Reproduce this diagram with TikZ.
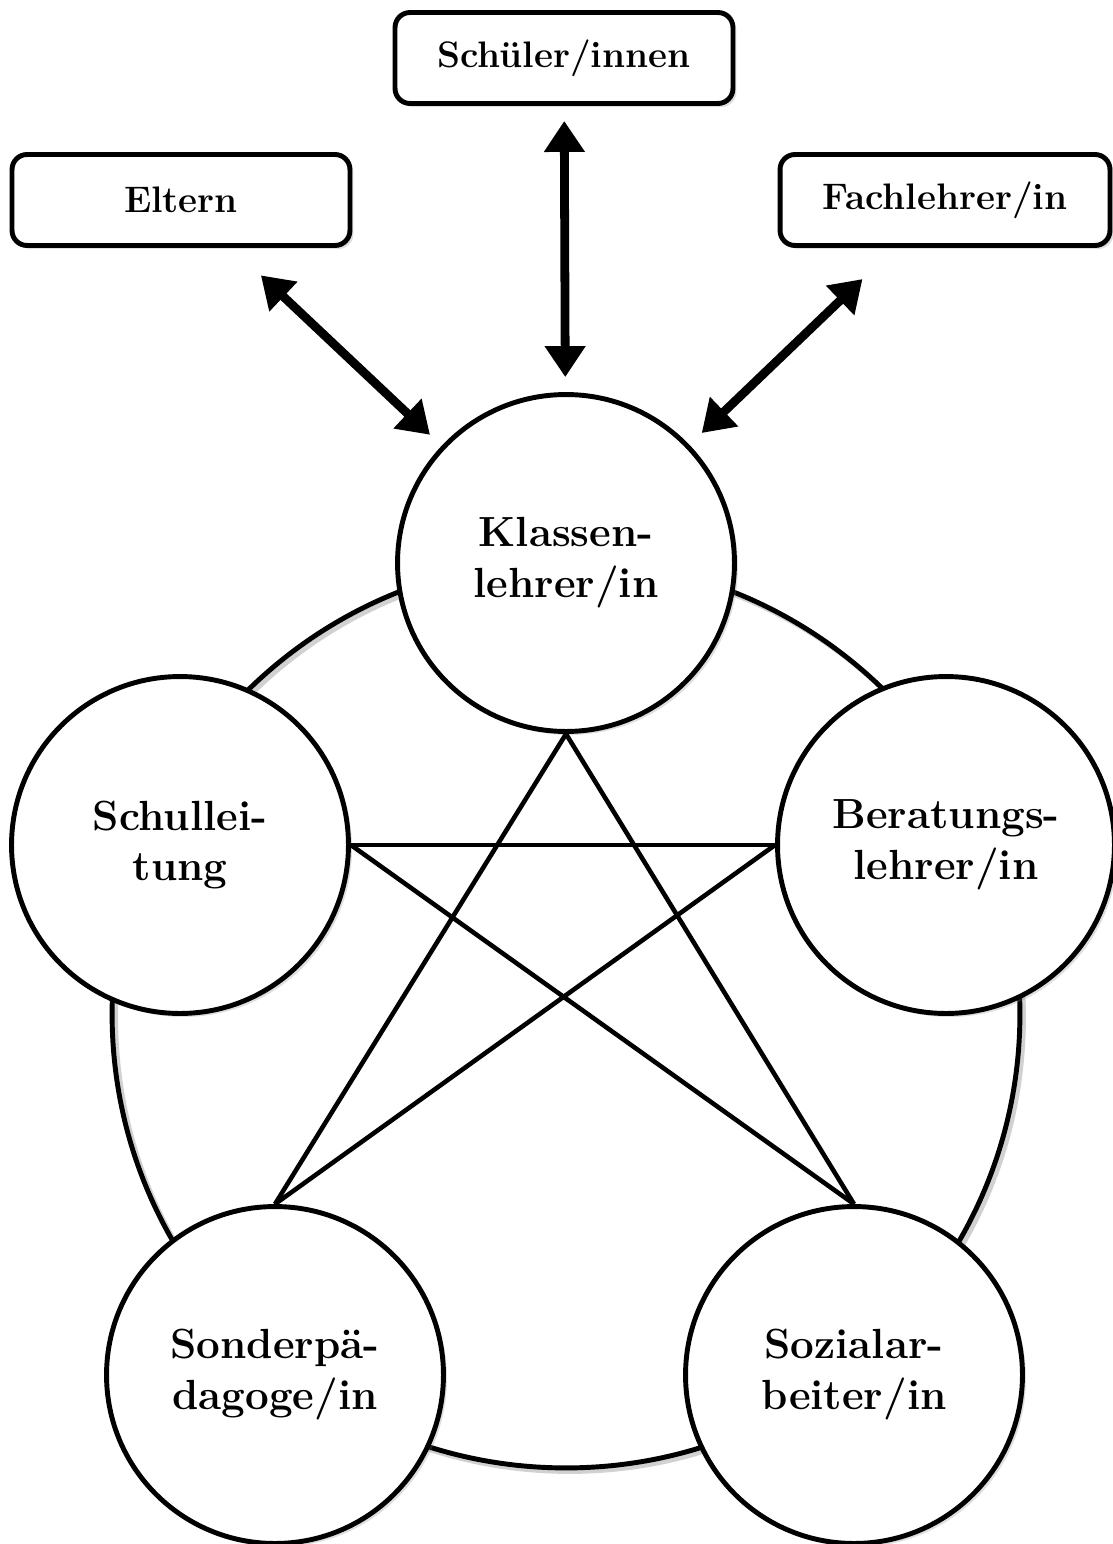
\documentclass[tikz,border=0pt]{standalone}
\usepackage{tikz}
\usetikzlibrary{arrows.meta,shadows}

\begin{document}
\begin{tikzpicture}[x=0.02cm,y=-0.02cm,
		role/.style={circle,draw=black,line width=2.8pt,fill=white,minimum size=6.74cm,inner sep=0pt,align=center,
			font=\fontsize{24}{29}\selectfont\bfseries,drop shadow={opacity=0.25,shadow xshift=2pt,shadow yshift=-2pt}},
		partner/.style={rectangle,rounded corners=0.3cm,draw=black,line width=2.8pt,fill=white,minimum height=1.82cm,
			font=\fontsize{21}{25}\selectfont\bfseries,drop shadow={opacity=0.25,shadow xshift=2pt,shadow yshift=-2pt}},
		link/.style={line width=2.6pt},
		talk/.style={line width=5pt,{Triangle[length=0.62cm,width=0.78cm]}-{Triangle[length=0.62cm,width=0.78cm]}}]
		\useasboundingbox (0,0) rectangle (1112,1544);

		% outer ring (with its shadow)
		\coordinate (mid) at (566,1014);
		\draw[line width=2.8pt,black!18] ([xshift=2pt,yshift=-2pt]mid) circle[radius=9.08cm];
		\draw[line width=2.8pt] (mid) circle[radius=9.08cm];

		% individual roles
		\node[role] (kl) at (566,563) {Klassen-\\lehrer/in};
		\node[role] (sl) at (180,845) {Schullei-\\tung};
		\node[role] (ber) at (946,845) {Beratungs-\\lehrer/in};
		\node[role] (son) at (275,1375) {Sonderpä-\\dagoge/in};
		\node[role] (soz) at (854,1375) {Sozialar-\\beiter/in};

		% partners outside
		\node[partner,minimum width=6.76cm] (elt) at (181,200) {Eltern};
		\node[partner,minimum width=6.76cm] (sch) at (564,58) {Schüler/innen};
		\node[partner,minimum width=6.6cm] (fach) at (945,200) {Fachlehrer/in};

		% star
		\draw[link] (kl.south) -- (son.north);
		\draw[link] (kl.south) -- (soz.north);
		\draw[link] (sl.east) -- (ber.west);
		\draw[link] (sl.east) -- (soz.north);
		\draw[link] (ber.west) -- (son.north);

		% arrows
		\draw[talk,shorten <=0.8cm,shorten >=0.32cm] (elt) -- (kl);
		\draw[talk,shorten <=0.3cm,shorten >=0.3cm] (sch) -- (kl);
		\draw[talk,shorten <=0.9cm,shorten >=0.34cm] (fach) -- (kl);
	\end{tikzpicture}
\end{document}
